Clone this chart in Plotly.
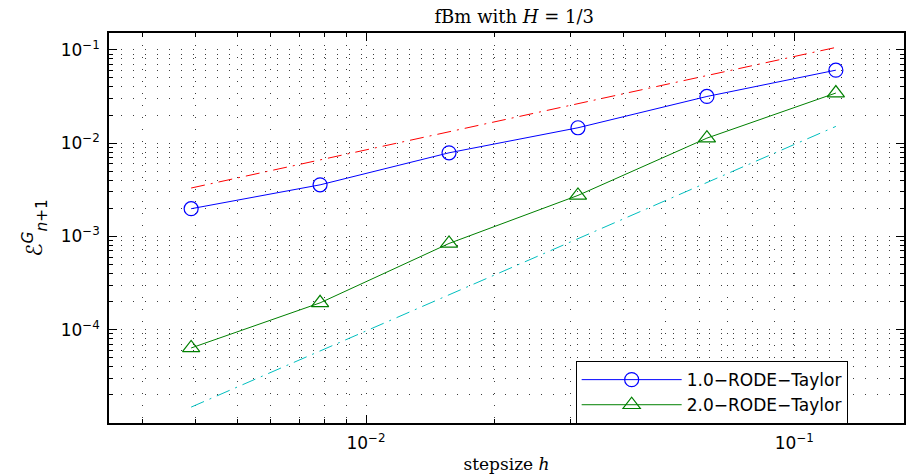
import plotly.graph_objects as go

# step sizes h = 2^-8 ... 2^-3
stepsize = [1/256, 1/128, 1/64, 1/32, 1/16, 1/8]

# pathwise errors of the two schemes
err_taylor1 = [1.98e-3, 3.57e-3, 7.87e-3, 1.46e-2, 3.16e-2, 6.05e-2]
err_taylor2 = [6.37e-5, 1.94e-4, 8.4e-4, 2.75e-3, 1.13e-2, 3.44e-2]

# reference slopes (order 1 and order 2), end points
ref1_h = [1/256, 1/8]
ref1_err = [3.3e-3, 0.106]
ref2_h = [1/256, 1/8]
ref2_err = [1.48e-5, 1.51e-2]

x_major = [1e-2, 1e-1]
x_major_text = ["10<sup>−2</sup>", "10<sup>−1</sup>"]
y_major = [1e-1, 1e-2, 1e-3, 1e-4]
y_major_text = ["10<sup>−1</sup>", "10<sup>−2</sup>", "10<sup>−3</sup>", "10<sup>−4</sup>"]

x_minor = [m * 10.0**e for e in (-3, -2, -1) for m in range(2, 10)]
y_minor = [m * 10.0**e for e in (-5, -4, -3, -2, -1) for m in range(2, 10)]

BLUE = "rgb(0,0,255)"
GREEN = "rgb(0,128,0)"
RED = "rgb(255,0,0)"
CYAN = "rgb(0,191,191)"

fig = go.Figure()

fig.add_trace(go.Scatter(
    x=ref1_h, y=ref1_err, mode="lines", showlegend=False,
    line=dict(color=RED, width=1, dash="14px,6px,2px,6px"),
))
fig.add_trace(go.Scatter(
    x=ref2_h, y=ref2_err, mode="lines", showlegend=False,
    line=dict(color=CYAN, width=1, dash="14px,6px,2px,6px"),
))
fig.add_trace(go.Scatter(
    x=stepsize, y=err_taylor1, mode="lines+markers", name="1.0−RODE−Taylor",
    line=dict(color=BLUE, width=1),
    marker=dict(symbol="circle-open", size=14, color=BLUE, line=dict(width=1.2)),
))
fig.add_trace(go.Scatter(
    x=stepsize, y=err_taylor2, mode="lines+markers", name="2.0−RODE−Taylor",
    line=dict(color=GREEN, width=1),
    marker=dict(symbol="triangle-up-open", size=15, color=GREEN, line=dict(width=1.2)),
))

grid_dash = "1px,11px"
grid_color = "rgb(60,60,60)"
tick_font = dict(family="DejaVu Sans", size=17, color="black")

fig.update_xaxes(
    type="log", range=[-2.6, -0.744],
    tickmode="array", tickvals=x_major, ticktext=x_major_text,
    ticks="inside", ticklen=8, tickwidth=1, tickcolor="black",
    ticklabelstandoff=4,
    showline=True, linecolor="black", linewidth=1.5, mirror="ticks",
    showgrid=True, gridcolor=grid_color, griddash=grid_dash, gridwidth=1,
    zeroline=False,
    minor=dict(tickmode="array", tickvals=x_minor, ticks="inside", ticklen=4,
               tickcolor="black", showgrid=True, gridcolor=grid_color,
               griddash=grid_dash, gridwidth=1),
    tickfont=tick_font,
    title=dict(text="stepsize <i>h</i>", standoff=6,
               font=dict(family="DejaVu Serif", size=17, color="black")),
)
fig.update_yaxes(
    type="log", range=[-5.0, -0.82],
    tickmode="array", tickvals=y_major, ticktext=y_major_text,
    ticks="inside", ticklen=8, tickwidth=1, tickcolor="black",
    ticklabelstandoff=4,
    showline=True, linecolor="black", linewidth=1.5, mirror="ticks",
    showgrid=True, gridcolor=grid_color, griddash=grid_dash, gridwidth=1,
    zeroline=False,
    minor=dict(tickmode="array", tickvals=y_minor, ticks="inside", ticklen=4,
               tickcolor="black", showgrid=True, gridcolor=grid_color,
               griddash=grid_dash, gridwidth=1),
    tickfont=tick_font,
    title=dict(text="<i>ℰ</i><sup><i>G</i></sup><sub><i>n</i>+1</sub>", standoff=12,
               font=dict(family="DejaVu Sans", size=22, color="black")),
)

fig.update_layout(
    width=907, height=476,
    margin=dict(l=109, r=1, t=33, b=53),
    paper_bgcolor="white", plot_bgcolor="white",
    title=dict(text="fBm with <i>H</i> = 1/3", x=0.567, xanchor="center",
               y=0.964, yanchor="middle",
               font=dict(family="DejaVu Serif", size=18, color="black")),
    legend=dict(x=0.587, y=0.078, xanchor="left", yanchor="middle",
                bgcolor="white", bordercolor="black", borderwidth=1,
                itemwidth=100, tracegroupgap=0,
                font=dict(family="DejaVu Sans", size=17, color="black")),
)

fig.write_html("out.html")
